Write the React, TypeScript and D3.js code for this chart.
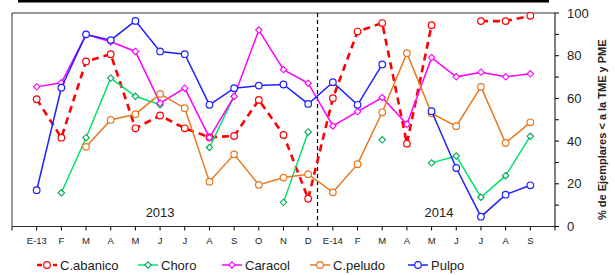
import { scalePoint, scaleLinear, line } from "d3";

type V = number | null;

const months = ["E-13", "F", "M", "A", "M", "J", "J", "A", "S", "O", "N", "D", "E-14", "F", "M", "A", "M", "J", "J", "A", "S"];

const abanico: V[] = [59.6, 41.6, 77.3, 80.7, 46, 52, 46, 41.8, 42.4, 59.3, 42.9, 13, 60.1, 91.3, 95.3, 38.8, 94.3, null, 96.2, 96.2, 98.7];
const choro: V[] = [null, 15.8, 41.6, 69.5, 61, 57, null, 37, 61, null, 11.3, 44.3, null, null, 40.6, null, 29.8, 33, 13.7, 23.8, 42.3];
const caracol: V[] = [65.4, 67.3, 89.9, 86.5, 82, 57.8, 64.8, 41.6, 60.9, 92, 73.5, 67.1, 47.1, 53.8, 60.4, 47.9, 79.1, 70.1, 72.3, 70.1, 71.5];
const peludo: V[] = [null, null, 37.3, 49.9, 52.6, 62.1, 55.4, 21, 33.8, 19.5, 22.9, 24.5, 16, 29.2, 53.5, 81.2, 53, 47, 65.4, 39.1, 48.8];
const pulpo: V[] = [17, 65, 90, 87.3, 96.3, 82, 80.7, 57, 64.8, 66, 66.5, 57.4, 67.6, 57, 75.9, null, 54, 27.4, 4.6, 14.9, 19.3];

const yTicks = [0, 20, 40, 60, 80, 100];
const yMinor = [0, 10, 20, 30, 40, 50, 60, 70, 80, 90, 100];

const series = [
  { name: "C.abanico", values: abanico, color: "#ff0000", marker: "#ff0000", dashed: true, shape: "circle", lx: 37 },
  { name: "Choro", values: choro, color: "#00e36b", marker: "#00a550", dashed: false, shape: "diamond", lx: 138 },
  { name: "Caracol", values: caracol, color: "#ff00ff", marker: "#ff00ff", dashed: false, shape: "diamond", lx: 222 },
  { name: "C.peludo", values: peludo, color: "#e8781e", marker: "#e8781e", dashed: false, shape: "circle", lx: 310 },
  { name: "Pulpo", values: pulpo, color: "#2020ff", marker: "#2020ff", dashed: false, shape: "circle", lx: 408 },
];

const left = 12;
const right = 555;
const top = 13;
const bottom = 226.5;
const font = "'Liberation Sans', Arial, sans-serif";

const Marker = ({ x, y, shape, color }: { x: number; y: number; shape: string; color: string }) =>
  shape === "circle" ? (
    <circle cx={x} cy={y} r={3.3} fill="#fff" stroke={color} strokeWidth={1.2} />
  ) : (
    <path d={`M${x},${y - 3.2}L${x + 3.2},${y}L${x},${y + 3.2}L${x - 3.2},${y}Z`} fill="#fff" stroke={color} strokeWidth={1.1} />
  );

export default function App() {
  const idx = months.map((_, i) => String(i));
  const x = scalePoint<string>().domain(idx).range([left, right]).padding(1);
  const y = scaleLinear().domain([0, 100]).range([bottom, top]);
  const step = x.step();
  const xTicks = [left, ...idx.map((i) => x(i)!), right];

  const mk = line<V>()
    .defined((d) => d != null)
    .x((_, i) => x(String(i))!)
    .y((d) => y(d as number));

  const divider = (x("11")! + x("12")!) / 2 - 3;

  return (
    <svg width={615} height={275} style={{ position: "absolute", left: 0, top: 0 }}>
      <rect x={18} y={0} width={531} height={2.5} fill="#000" />
      {/* frame */}
      <path d={`M${right},${top}H${left}V${bottom}H${right}`} fill="none" stroke="#333" strokeWidth={1} />
      <line x1={right} x2={right} y1={top} y2={bottom} stroke="#000" strokeWidth={1} />
      {yMinor.map((t) => (
        <line key={t} x1={right} x2={right + 4} y1={y(t)} y2={y(t)} stroke="#000" />
      ))}
      {yTicks.map((t) => (
        <text key={t} x={567} y={y(t) + 4.5} fontSize={13} fontFamily={font} fill="#222">
          {t}
        </text>
      ))}
      {xTicks.map((t, i) => (
        <line key={i} x1={t} x2={t} y1={bottom} y2={bottom + 4} stroke="#000" />
      ))}
      {months.map((m, i) => (
        <text key={i} x={x(String(i))!} y={244} fontSize={9.5} textAnchor="middle" fontFamily={font} fill="#222">
          {m}
        </text>
      ))}
      <line x1={divider} x2={divider} y1={top} y2={bottom} stroke="#000" strokeWidth={1.2} strokeDasharray="4,3" />
      <text x={x("5")!} y={217} fontSize={13} textAnchor="middle" fontFamily={font} fill="#222">2013</text>
      <text x={x("16")! + step * 0.3} y={217} fontSize={13} textAnchor="middle" fontFamily={font} fill="#222">2014</text>
      <text
        transform={`translate(606,${(top + bottom) / 2 + 10}) rotate(-90)`}
        fontSize={11}
        fontWeight="bold"
        textAnchor="middle"
        fontFamily={font}
        fill="#222"
      >
        % de Ejemplares &lt; a la TME  y PME
      </text>
      {series.map((s) => (
        <g key={s.name}>
          <path
            d={mk(s.values) ?? ""}
            fill="none"
            stroke={s.color}
            strokeWidth={s.dashed ? 2.6 : 1.5}
            strokeDasharray={s.dashed ? "7,5" : undefined}
          />
          {s.values.map((v, i) =>
            v == null ? null : <Marker key={i} x={x(String(i))!} y={y(v)} shape={s.shape} color={s.marker} />
          )}
        </g>
      ))}
      {series.map((s) => (
        <g key={s.name + "-lg"}>
          <line
            x1={s.lx}
            x2={s.lx + 20}
            y1={265}
            y2={265}
            stroke={s.color}
            strokeWidth={s.dashed ? 2.6 : 1.5}
            strokeDasharray={s.dashed ? "5,3" : undefined}
          />
          <Marker x={s.lx + 10} y={265} shape={s.shape} color={s.marker} />
          <text x={s.lx + 23} y={269.5} fontSize={13} fontFamily={font} fill="#222">
            {s.name}
          </text>
        </g>
      ))}
    </svg>
  );
}
